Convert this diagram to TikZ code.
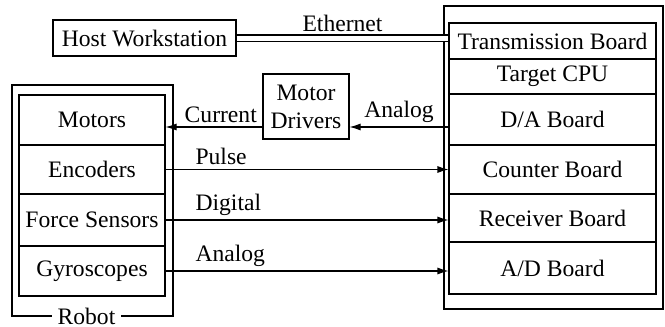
\documentclass[tikz,border=0pt]{standalone}
\usepackage{fontspec}
\setmainfont{Liberation Serif}
\usetikzlibrary{arrows.meta}

\begin{document}
\begin{tikzpicture}[x=1pt,y=-1pt,line width=1.1pt,
   >={Latex[length=11pt,width=7pt]},
   every node/.style={font=\fontsize{23.6}{28}\selectfont},
   box/.style={draw,inner sep=0pt},
   rcol/.style={box,minimum width=207pt},
   lcol/.style={box,minimum width=146pt},
   lbl/.style={above,inner sep=4pt}]
   \useasboundingbox (0,0) rectangle (665,327);

   % outer frames
   \node[box,minimum width=161pt,minimum height=231pt] (rob) at (92.5,200.5) {};
   \node[box,minimum width=219pt,minimum height=303pt] (tgt) at (553.5,157.5) {};
   \node[fill=white,inner xsep=6pt,inner ysep=0pt] (rl) at ([xshift=-6pt]rob.south) {Robot};

   \node[box,minimum width=183pt,minimum height=36pt] (host) at (144.5,38) {Host Workstation};
   \node[box,minimum width=86pt,minimum height=65pt,align=center] (md) at (306,106.5) {Motor\\Drivers};

   % target side
   \node[rcol,minimum height=36pt] (tb) at (552.5,41) {Transmission Board};
   \node[rcol,minimum height=35pt] (cpu) at (552.5,76.5) {Target CPU};
   \node[rcol,minimum height=51pt] (da) at (552.5,119.5) {D/A Board};
   \node[rcol,minimum height=49pt] (cb) at (552.5,169.5) {Counter Board};
   \node[rcol,minimum height=48pt] (rb) at (552.5,218) {Receiver Board};
   \node[rcol,minimum height=52pt] (ad) at (552.5,268) {A/D Board};

   % robot side
   \node[lcol,minimum height=50pt] (mot) at (92,120) {Motors};
   \node[lcol,minimum height=49pt] (enc) at (92,169.5) {Encoders};
   \node[lcol,minimum height=52pt] (fs) at (92,220) {Force Sensors};
   \node[lcol,minimum height=50pt] (gyr) at (92,271) {Gyroscopes};

   \draw[double,double distance=5pt] (host.east) -- (host.east -| tb.west)
      node[midway,above,inner sep=6pt] {Ethernet};

   \coordinate (c1) at ([yshift=-20.5pt]md.west);
   \draw[->] (c1) -- (c1 -| mot.east) node[lbl,pos=0.43] {Current};
   \draw[->] (c1 -| da.west) -- (c1 -| md.east) node[lbl,midway] {Analog};

   \draw[->] (enc.east) -- (enc.east -| cb.west) node[lbl,pos=0.09,anchor=south west] {Pulse};
   \draw[->] (fs.east) -- (fs.east -| rb.west) node[lbl,pos=0.09,anchor=south west] {Digital};
   \draw[->] (gyr.east) -- (gyr.east -| ad.west) node[lbl,pos=0.09,anchor=south west] {Analog};
\end{tikzpicture}
\end{document}
